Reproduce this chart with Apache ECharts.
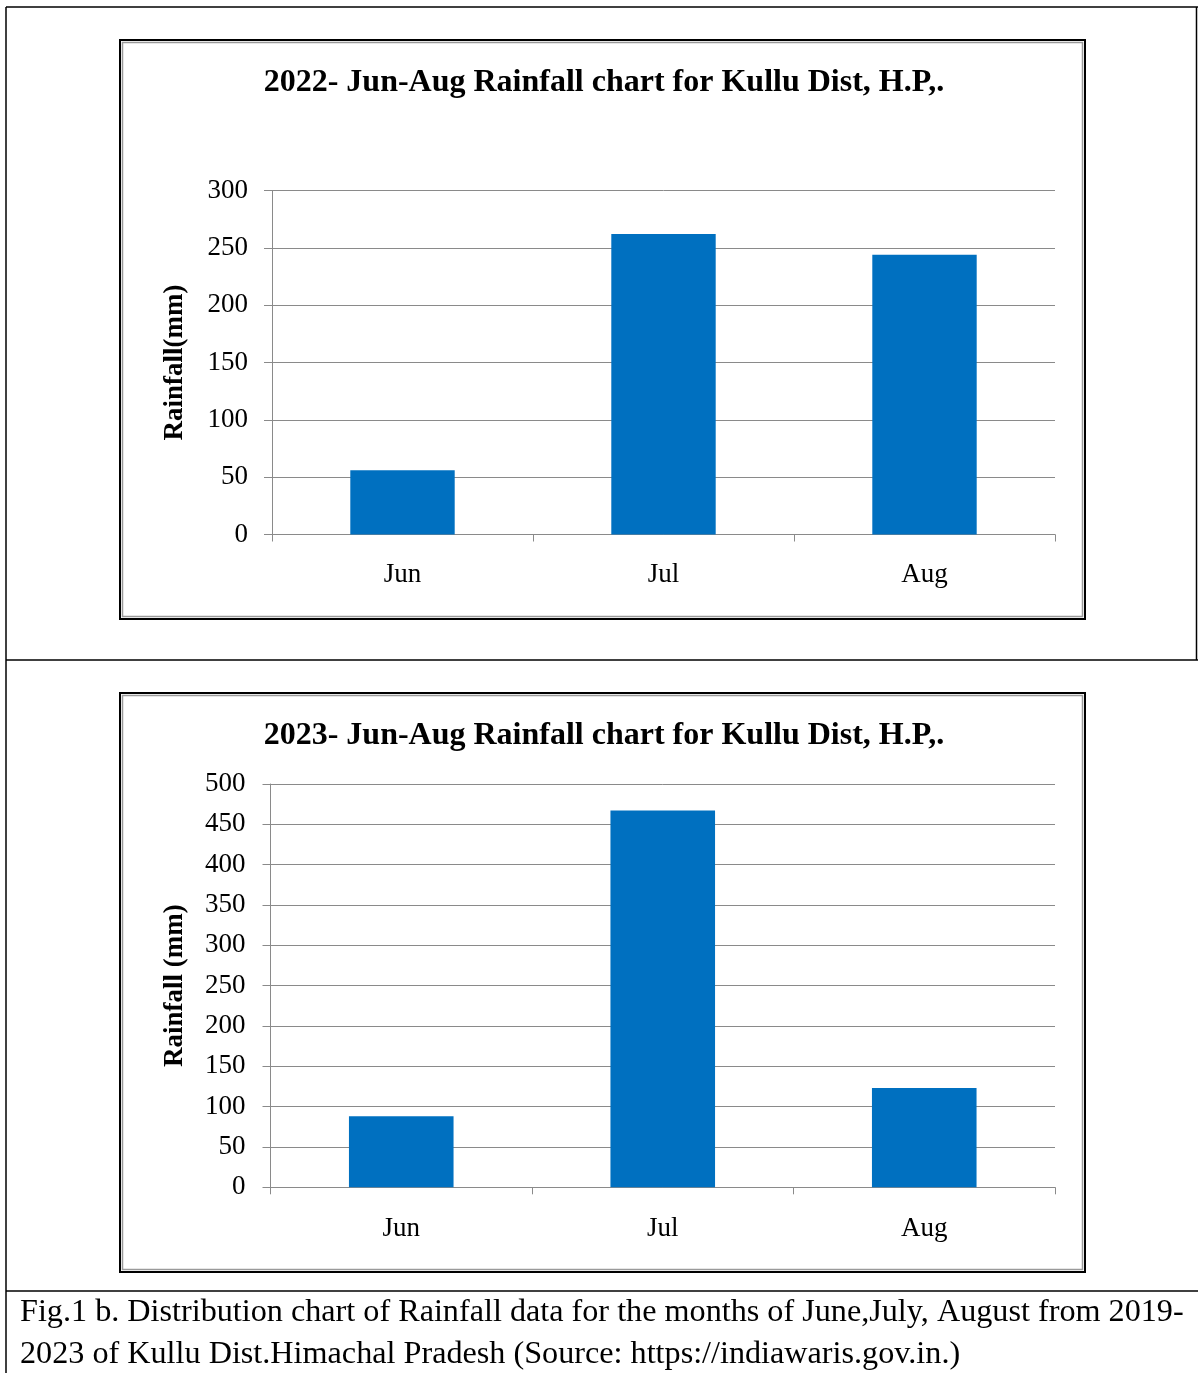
<!DOCTYPE html>
<html>
<head>
<meta charset="utf-8">
<script src="https://cdn.jsdelivr.net/npm/echarts@6/dist/echarts.min.js"></script>
<style>
html,body{margin:0;padding:0;background:#fff;}
#c{width:1198px;height:1373px;}
</style>
</head>
<body>
<div id="c"></div>
<script>
const months = ['Jun', 'Jul', 'Aug'];
const rain2022 = [56, 262, 244];
const rain2023 = [88, 467, 123];
const title2022 = '2022- Jun-Aug Rainfall chart for Kullu Dist, H.P,.';
const title2023 = '2023- Jun-Aug Rainfall chart for Kullu Dist, H.P,.';
const yName2022 = 'Rainfall(mm)';
const yName2023 = 'Rainfall (mm)';
const axis2022 = {min: 0, max: 300, interval: 50};
const axis2023 = {min: 0, max: 500, interval: 50};
const captionLines = [
  'Fig.1 b. Distribution chart of Rainfall data for the months of June,July, August from 2019-',
  '2023 of Kullu Dist.Himachal Pradesh (Source: https://indiawaris.gov.in.)'
];

const FONT = '"Liberation Serif", "Times New Roman", serif';
const GRID_COLOR = '#8a8a8a';
const BAR_COLOR = '#0070C0';

function xAxisFor(gi, margin) {
  return {
    type: 'category', gridIndex: gi, data: months,
    axisLine: {show: true, lineStyle: {color: GRID_COLOR, width: 1}},
    axisTick: {show: true, length: 7, lineStyle: {color: GRID_COLOR}},
    axisLabel: {color: '#000', fontFamily: FONT, fontSize: 27, margin: margin}
  };
}
function yAxisFor(gi, ax, name, margin, nameGap) {
  return {
    type: 'value', gridIndex: gi, min: ax.min, max: ax.max, interval: ax.interval,
    name: name, nameLocation: 'middle', nameGap: nameGap,
    nameTextStyle: {color: '#000', fontFamily: FONT, fontSize: 27, fontWeight: 'bold'},
    axisLine: {show: true, lineStyle: {color: GRID_COLOR, width: 1}},
    axisTick: {show: true, length: 8, lineStyle: {color: GRID_COLOR}},
    axisLabel: {color: '#000', fontFamily: FONT, fontSize: 27, margin: margin},
    splitLine: {show: true, lineStyle: {color: GRID_COLOR, width: 1}}
  };
}

function boxGraphics(x, y, w, h) {
  return [
    {type: 'rect', shape: {x: x, y: y, width: w, height: h}, style: {fill: 'none', stroke: '#000', lineWidth: 2}, z: 10},
    {type: 'rect', shape: {x: x + 2.5, y: y + 2.5, width: w - 5, height: h - 5}, style: {fill: 'none', stroke: '#9a9a9a', lineWidth: 1.5}, z: 10}
  ];
}

const graphics = [
  {type: 'line', shape: {x1: 6, y1: 7, x2: 1198, y2: 7}, style: {stroke: '#000', lineWidth: 1.5}},
  {type: 'line', shape: {x1: 6, y1: 7, x2: 6, y2: 1373}, style: {stroke: '#000', lineWidth: 1.5}},
  {type: 'line', shape: {x1: 1196.5, y1: 7, x2: 1196.5, y2: 660}, style: {stroke: '#000', lineWidth: 1.5}},
  {type: 'line', shape: {x1: 6, y1: 660, x2: 1198, y2: 660}, style: {stroke: '#000', lineWidth: 1.5}},
  {type: 'line', shape: {x1: 6, y1: 1291, x2: 1198, y2: 1291}, style: {stroke: '#000', lineWidth: 1.5}},
  ...boxGraphics(120, 40, 965, 579),
  ...boxGraphics(120, 693, 965, 579),
  {type: 'text', left: 20, top: 1297, style: {text: captionLines[0], fill: '#000', font: '32.2px ' + FONT}},
  {type: 'text', left: 20, top: 1339, style: {text: captionLines[1], fill: '#000', font: '32.2px ' + FONT}}
];

const chart = echarts.init(document.getElementById('c'), null, {renderer: 'canvas'});
chart.setOption({
  backgroundColor: '#fff',
  animation: false,
  title: [
    {text: title2022, left: 599, top: 62, textAlign: 'center',
     textStyle: {fontFamily: FONT, fontSize: 32, fontWeight: 'bold', color: '#000'}},
    {text: title2023, left: 599, top: 715, textAlign: 'center',
     textStyle: {fontFamily: FONT, fontSize: 32, fontWeight: 'bold', color: '#000'}}
  ],
  grid: [
    {left: 272, top: 190.5, width: 783, height: 344},
    {left: 270.5, top: 784, width: 784.5, height: 403.3}
  ],
  xAxis: [xAxisFor(0, 27), xAxisFor(1, 28)],
  yAxis: [yAxisFor(0, axis2022, yName2022, 24, 83.5), yAxisFor(1, axis2023, yName2023, 25, 81.5)],
  series: [
    {type: 'bar', xAxisIndex: 0, yAxisIndex: 0, data: rain2022, barCategoryGap: '60%',
     itemStyle: {color: BAR_COLOR}},
    {type: 'bar', xAxisIndex: 1, yAxisIndex: 1, data: rain2023, barCategoryGap: '60%',
     itemStyle: {color: BAR_COLOR}}
  ],
  graphic: graphics
});
</script>
</body>
</html>
